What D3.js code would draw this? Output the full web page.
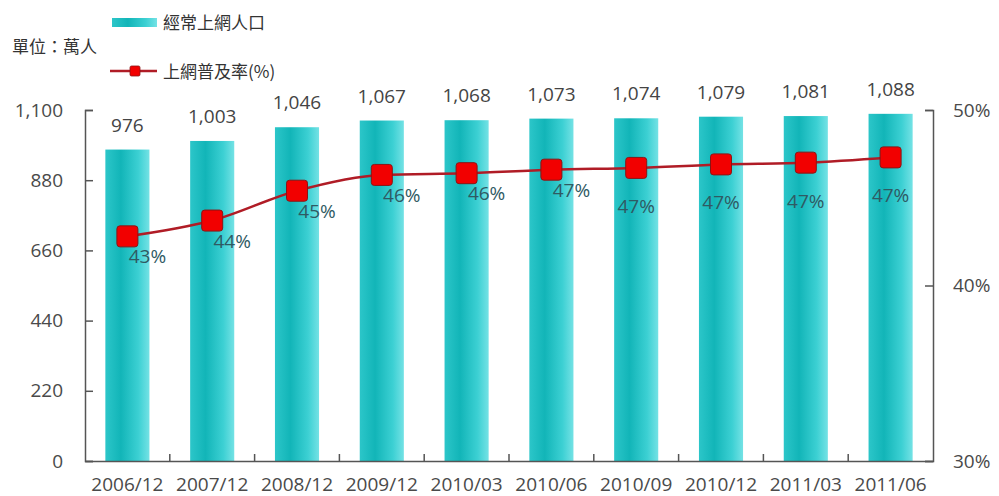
<!DOCTYPE html>
<html>
<head>
<meta charset="utf-8">
<script src="https://cdn.jsdelivr.net/npm/d3@7"></script>
<style>
	body { margin: 0; background: #fff; }
	text { font-family: "Open Sans", "Noto Sans CJK TC", sans-serif; }
	.cjk { font-family: "Noto Sans CJK TC", sans-serif; }
</style>
</head>
<body>
<div class="container"></div>
<script>
var categories = ["2006/12","2007/12","2008/12","2009/12","2010/03","2010/06","2010/09","2010/12","2011/03","2011/06"];
var users = [976, 1003, 1046, 1067, 1068, 1073, 1074, 1079, 1081, 1088];
var rates = [42.8, 43.7, 45.4, 46.3, 46.4, 46.6, 46.7, 46.9, 47.0, 47.3];
var rateLabels = ["43%","44%","45%","46%","46%","47%","47%","47%","47%","47%"];
var leftTicks = [0, 220, 440, 660, 880, 1100];
var rightTicks = [30, 40, 50];
var barName = "經常上網人口";
var lineName = "上網普及率(%)";
var unitText = "單位：萬人";

const WIDTH = 999;
const HEIGHT = 496;
const LEFT = 85, RIGHT = 933, TOP = 110, BOTTOM = 461;

var svg, xScale, yScale, rScale;

var translate = function(x, y){
	return "translate(" + x + "," + y + ")";
};

var loadChart = function(){
	svg = d3.select('.container').append('svg')
		.attr('width', WIDTH)
		.attr('height', HEIGHT);

	var defs = svg.append('defs');
	var grad = defs.append('linearGradient')
		.attr('id', 'barGrad')
		.attr('x1', '0%').attr('x2', '100%').attr('y1', '0%').attr('y2', '0%');
	grad.append('stop').attr('offset', '0%').attr('stop-color', '#2cc6c9');
	grad.append('stop').attr('offset', '35%').attr('stop-color', '#12b5b8');
	grad.append('stop').attr('offset', '75%').attr('stop-color', '#3cd0d3');
	grad.append('stop').attr('offset', '100%').attr('stop-color', '#74e2e5');

	xScale = d3.scaleBand()
		.domain(categories)
		.range([LEFT, RIGHT])
		.paddingInner(0.48)
		.paddingOuter(0.24);

	yScale = d3.scaleLinear()
		.domain([0, 1100])
		.range([BOTTOM, TOP]);

	rScale = d3.scaleLinear()
		.domain([30, 50])
		.range([BOTTOM, TOP]);

	// bars
	svg.append('g').selectAll('rect').data(users)
		.enter().append('rect')
		.attr('x', function(d, i){ return xScale(categories[i]); })
		.attr('y', function(d){ return yScale(d); })
		.attr('width', xScale.bandwidth())
		.attr('height', function(d){ return BOTTOM - yScale(d); })
		.attr('fill', 'url(#barGrad)');

	// bar value labels
	svg.append('g').selectAll('text').data(users)
		.enter().append('text')
		.attr('x', function(d, i){ return xScale(categories[i]) + xScale.bandwidth() / 2; })
		.attr('y', function(d){ return yScale(d) - 18; })
		.attr('text-anchor', 'middle')
		.attr('font-size', 19)
		.attr('fill', '#444')
		.text(function(d){ return d3.format(',')(d); });

	// axes
	var leftAxis = d3.axisLeft(yScale).tickValues(leftTicks)
		.tickSizeInner(-8).tickSizeOuter(-8).tickPadding(22)
		.tickFormat(d3.format(','));
	svg.append('g')
		.attr('transform', translate(LEFT, 0))
		.call(leftAxis)
		.call(styleAxis);

	var rightAxis = d3.axisRight(rScale).tickValues(rightTicks)
		.tickSizeInner(-8).tickSizeOuter(-8).tickPadding(20)
		.tickFormat(function(d){ return d + '%'; });
	svg.append('g')
		.attr('transform', translate(RIGHT, 0))
		.call(rightAxis)
		.call(styleAxis);

	var bottomAxis = d3.axisBottom(xScale).tickSize(0).tickPadding(17);
	var bx = svg.append('g')
		.attr('transform', translate(0, BOTTOM))
		.call(bottomAxis)
		.call(styleAxis);
	bx.selectAll('.tick text').attr('dy', '0.71em');

	// between-category ticks on the x axis
	var step = xScale.step();
	svg.append('g').selectAll('line').data(categories.slice(1))
		.enter().append('line')
		.attr('x1', function(d){ return xScale(d) - step * 0.24; })
		.attr('x2', function(d){ return xScale(d) - step * 0.24; })
		.attr('y1', BOTTOM)
		.attr('y2', BOTTOM - 7)
		.attr('stroke', '#555')
		.attr('stroke-width', 1.5);

	createLine();
	createLegend();
};

var styleAxis = function(g){
	g.select('.domain').attr('stroke', '#555').attr('stroke-width', 1.5);
	g.selectAll('.tick line').attr('stroke', '#555').attr('stroke-width', 1.5);
	g.selectAll('.tick text')
		.attr('font-size', 19)
		.attr('fill', '#4a4a4a')
		.style('font-family', '"Open Sans", sans-serif');
};

var cx = function(i){
	return xScale(categories[i]) + xScale.bandwidth() / 2;
};

var createLine = function(){
	var line = d3.line()
		.x(function(d, i){ return cx(i); })
		.y(function(d){ return rScale(d); })
		.curve(d3.curveMonotoneX);

	svg.append('path')
		.attr('d', line(rates))
		.attr('fill', 'none')
		.attr('stroke', '#b01c26')
		.attr('stroke-width', 2.5);

	var s = 21;
	svg.append('g').selectAll('rect').data(rates)
		.enter().append('rect')
		.attr('x', function(d, i){ return cx(i) - s / 2; })
		.attr('y', function(d){ return rScale(d) - s / 2; })
		.attr('width', s)
		.attr('height', s)
		.attr('rx', 3)
		.attr('fill', '#f20000')
		.attr('stroke', '#8a1515')
		.attr('stroke-width', 1);

	svg.append('g').selectAll('text').data(rates)
		.enter().append('text')
		.attr('x', function(d, i){ return cx(i) + (i < 6 ? 20 : 0); })
		.attr('y', function(d, i){ return rScale(d) + (i < 6 ? 27 : 45); })
		.attr('text-anchor', 'middle')
		.attr('font-size', 19)
		.attr('fill', '#2f5a63')
		.text(function(d, i){ return rateLabels[i]; });
};

var createLegend = function(){
	var lg = svg.append('g');

	lg.append('rect')
		.attr('x', 112).attr('y', 18)
		.attr('width', 45).attr('height', 9)
		.attr('fill', 'url(#barGrad)');
	lg.append('text')
		.attr('class', 'cjk')
		.attr('x', 163).attr('y', 29)
		.attr('font-size', 17)
		.attr('fill', '#333')
		.text(barName);

	lg.append('text')
		.attr('class', 'cjk')
		.attr('x', 12).attr('y', 53)
		.attr('font-size', 17)
		.attr('fill', '#333')
		.text(unitText);

	lg.append('line')
		.attr('x1', 110).attr('x2', 157)
		.attr('y1', 71).attr('y2', 71)
		.attr('stroke', '#b01c26')
		.attr('stroke-width', 2.5);
	lg.append('rect')
		.attr('x', 130).attr('y', 66)
		.attr('width', 10).attr('height', 10)
		.attr('rx', 1.5)
		.attr('fill', '#f20000')
		.attr('stroke', '#8a1515')
		.attr('stroke-width', 0.8);
	lg.append('text')
		.attr('class', 'cjk')
		.attr('x', 163).attr('y', 78)
		.attr('font-size', 17)
		.attr('fill', '#333')
		.text(lineName);
};

window.onload = loadChart;
</script>
</body>
</html>
